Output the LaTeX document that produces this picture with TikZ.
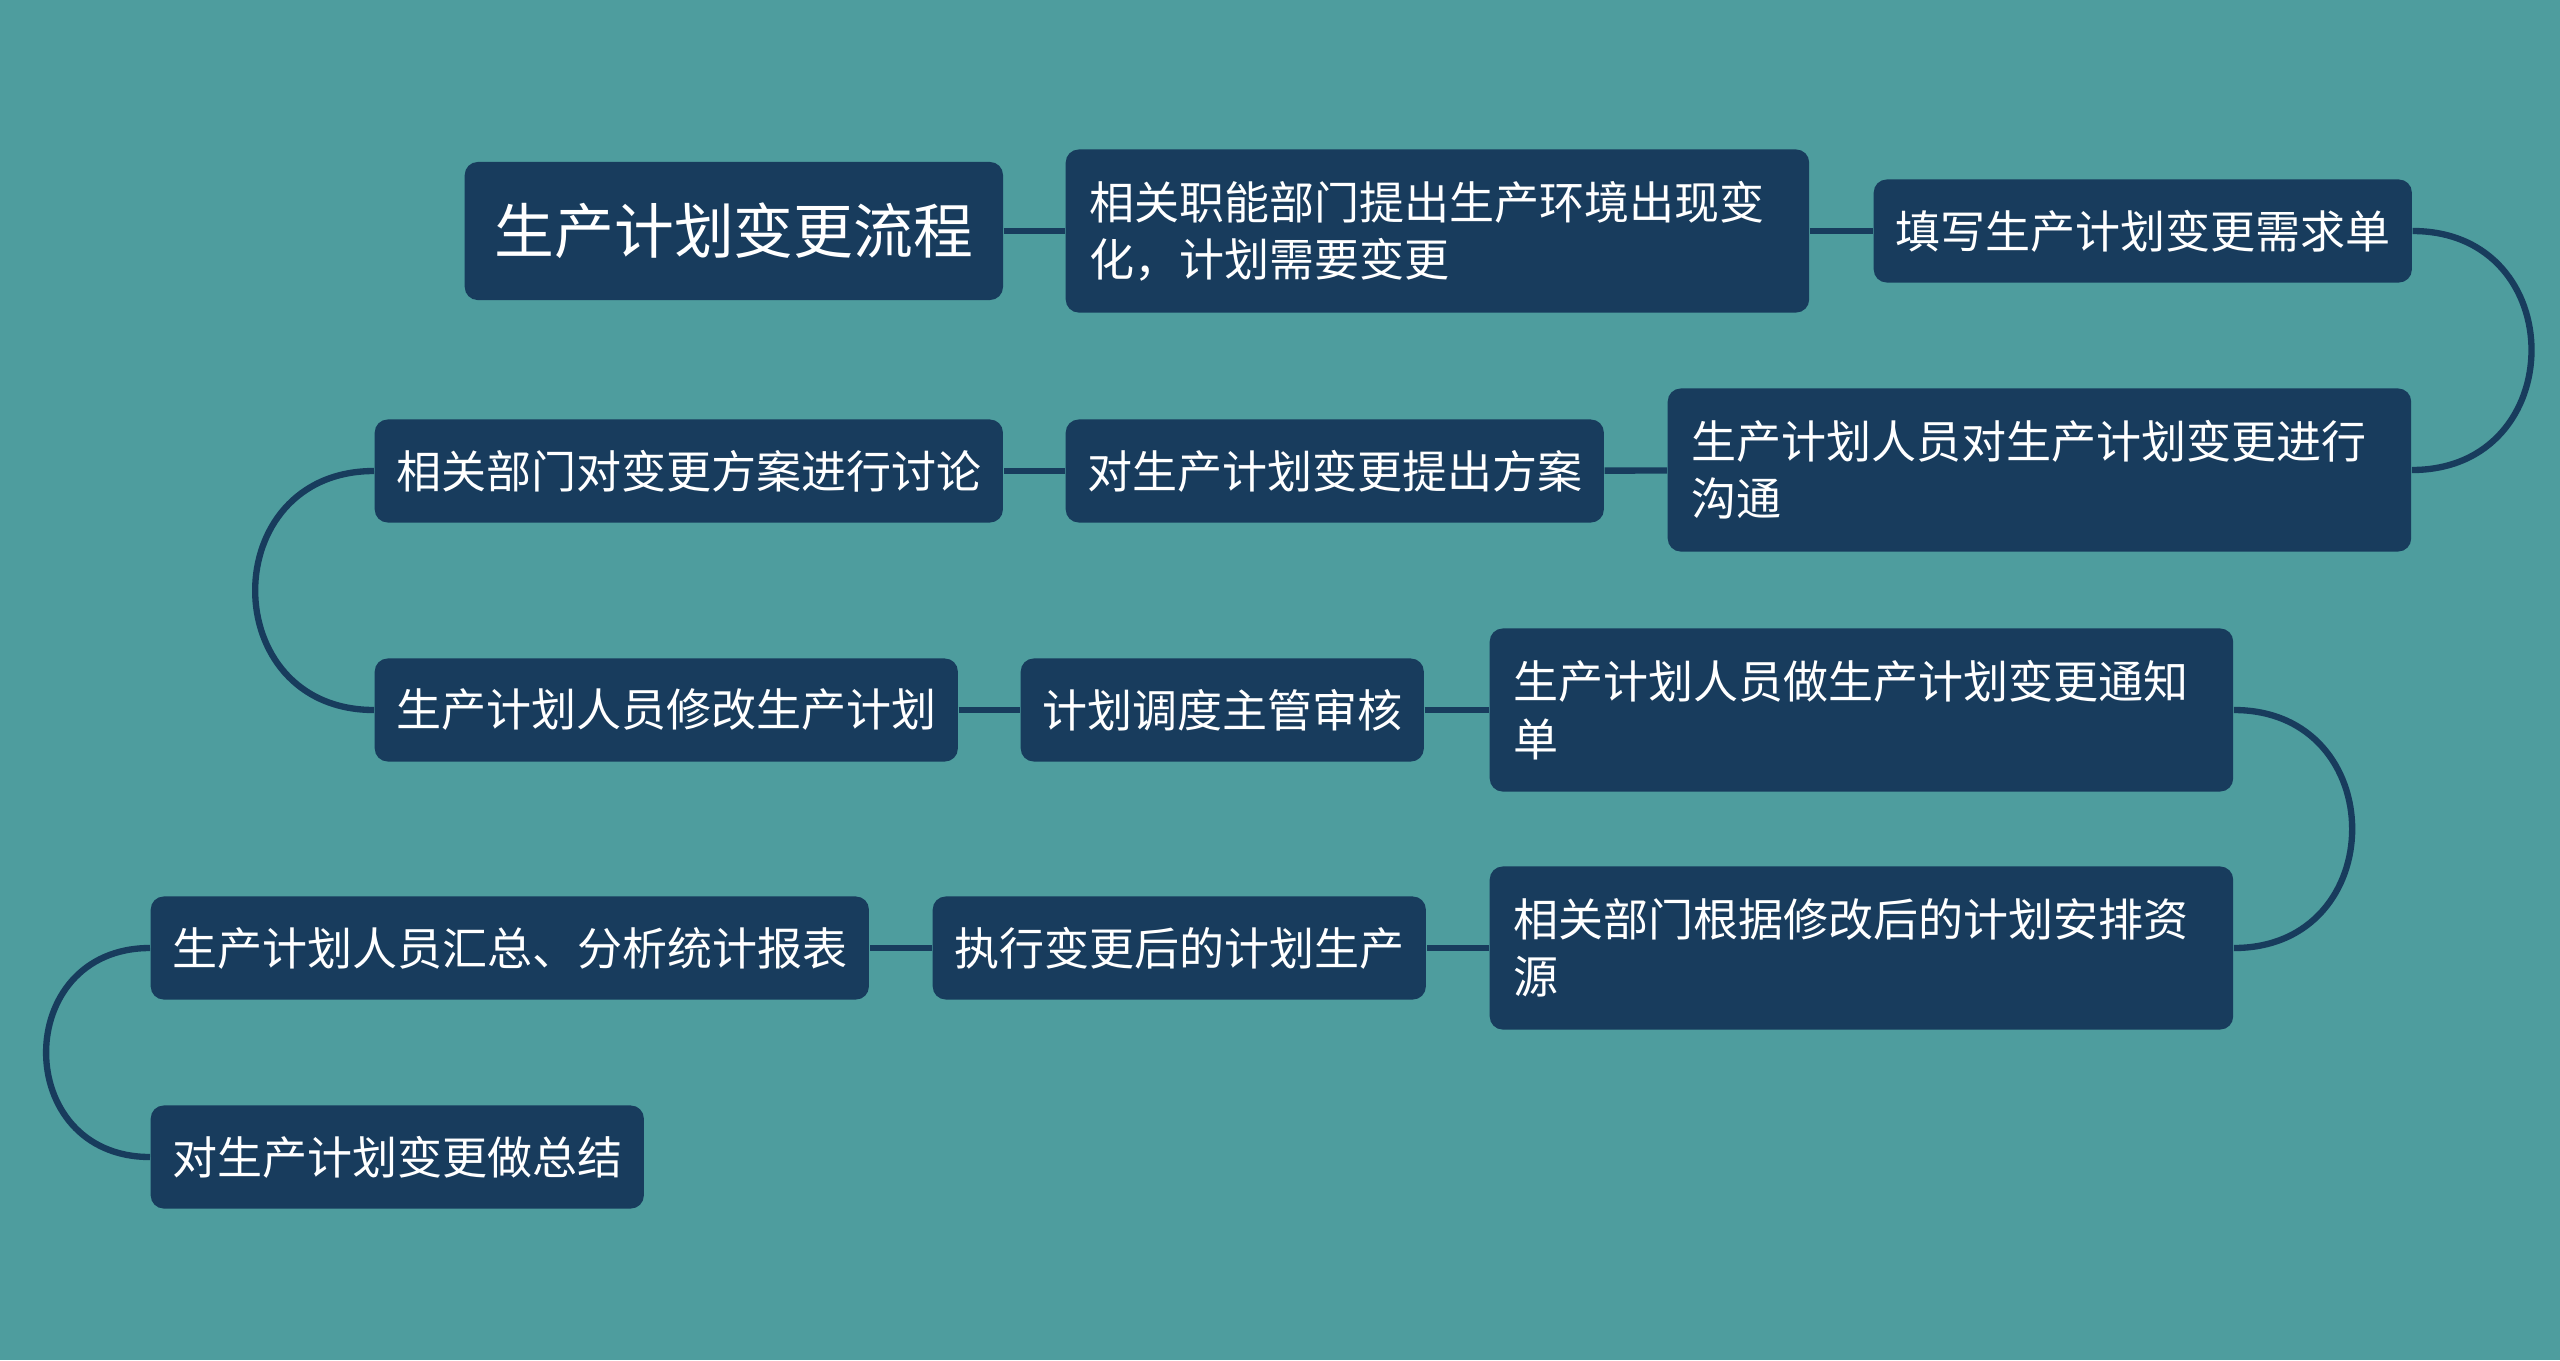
\documentclass[tikz,border=0pt]{standalone}
\usepackage{fontspec}
\setmainfont{Noto Sans CJK SC}
\usepackage{tikz}

\definecolor{bgteal}{RGB}{78,157,158}
\definecolor{navy}{RGB}{24,60,93}

\tikzset{
  stepbox/.style = {fill=navy, text=white, rounded corners=0.13cm, anchor=west,
    inner xsep=0.215cm, minimum height=1.03cm,
    font=\fontsize{12.8pt}{16.3pt}\selectfont},
  twoline/.style = {stepbox, inner xsep=0.24cm, text width=6.95cm, align=left,
    minimum height=1.63cm},
  titlebox/.style = {stepbox, inner xsep=0.3cm, minimum height=1.38cm,
    font=\fontsize{17pt}{20pt}\selectfont},
  link/.style = {navy, line width=1.8pt}
}

\begin{document}
\begin{tikzpicture}[x=0.01cm, y=-0.01cm]
        \useasboundingbox (0,0) rectangle (2560,1360);
        \fill[bgteal] (0,0) rectangle (2560,1360);

        % row 1
        \node[titlebox] (title) at (464,231) {生产计划变更流程};
        \node[twoline] (env) at (1065,231) {相关职能部门提出生产环境出现变\\化，计划需要变更};
        \node[stepbox] (form) at (1873,231) {填写生产计划变更需求单};

        % row 2
        \node[twoline] (talk) at (1667,470) {生产计划人员对生产计划变更进行\\沟通};
        \node[stepbox] (plan) at (1065,471) {对生产计划变更提出方案};
        \node[stepbox] (discuss) at (374,471) {相关部门对变更方案进行讨论};

        % row 3
        \node[stepbox] (modify) at (374,710) {生产计划人员修改生产计划};
        \node[stepbox] (review) at (1020,710) {计划调度主管审核};
        \node[twoline] (notice) at (1489,710) {生产计划人员做生产计划变更通知\\单};

        % row 4
        \node[twoline] (arrange) at (1489,948) {相关部门根据修改后的计划安排资\\源};
        \node[stepbox] (execute) at (932,948) {执行变更后的计划生产};
        \node[stepbox] (report) at (150,948) {生产计划人员汇总、分析统计报表};

        % row 5
        \node[stepbox] (summary) at (150,1157) {对生产计划变更做总结};

        \draw[link] (title) -- (env);
        \draw[link] (env) -- (form);
        \draw[link] (form.east) to[out=0, in=0, looseness=1.7] (talk.east);
        \draw[link] (talk) -- (plan);
        \draw[link] (plan) -- (discuss);
        \draw[link] (discuss.west) to[out=180, in=180, looseness=1.7] (modify.west);
        \draw[link] (modify) -- (review);
        \draw[link] (review) -- (notice);
        \draw[link] (notice.east) to[out=0, in=0, looseness=1.7] (arrange.east);
        \draw[link] (arrange) -- (execute);
        \draw[link] (execute) -- (report);
        \draw[link] (report.west) to[out=180, in=180, looseness=1.7] (summary.west);
    \end{tikzpicture}
\end{document}
